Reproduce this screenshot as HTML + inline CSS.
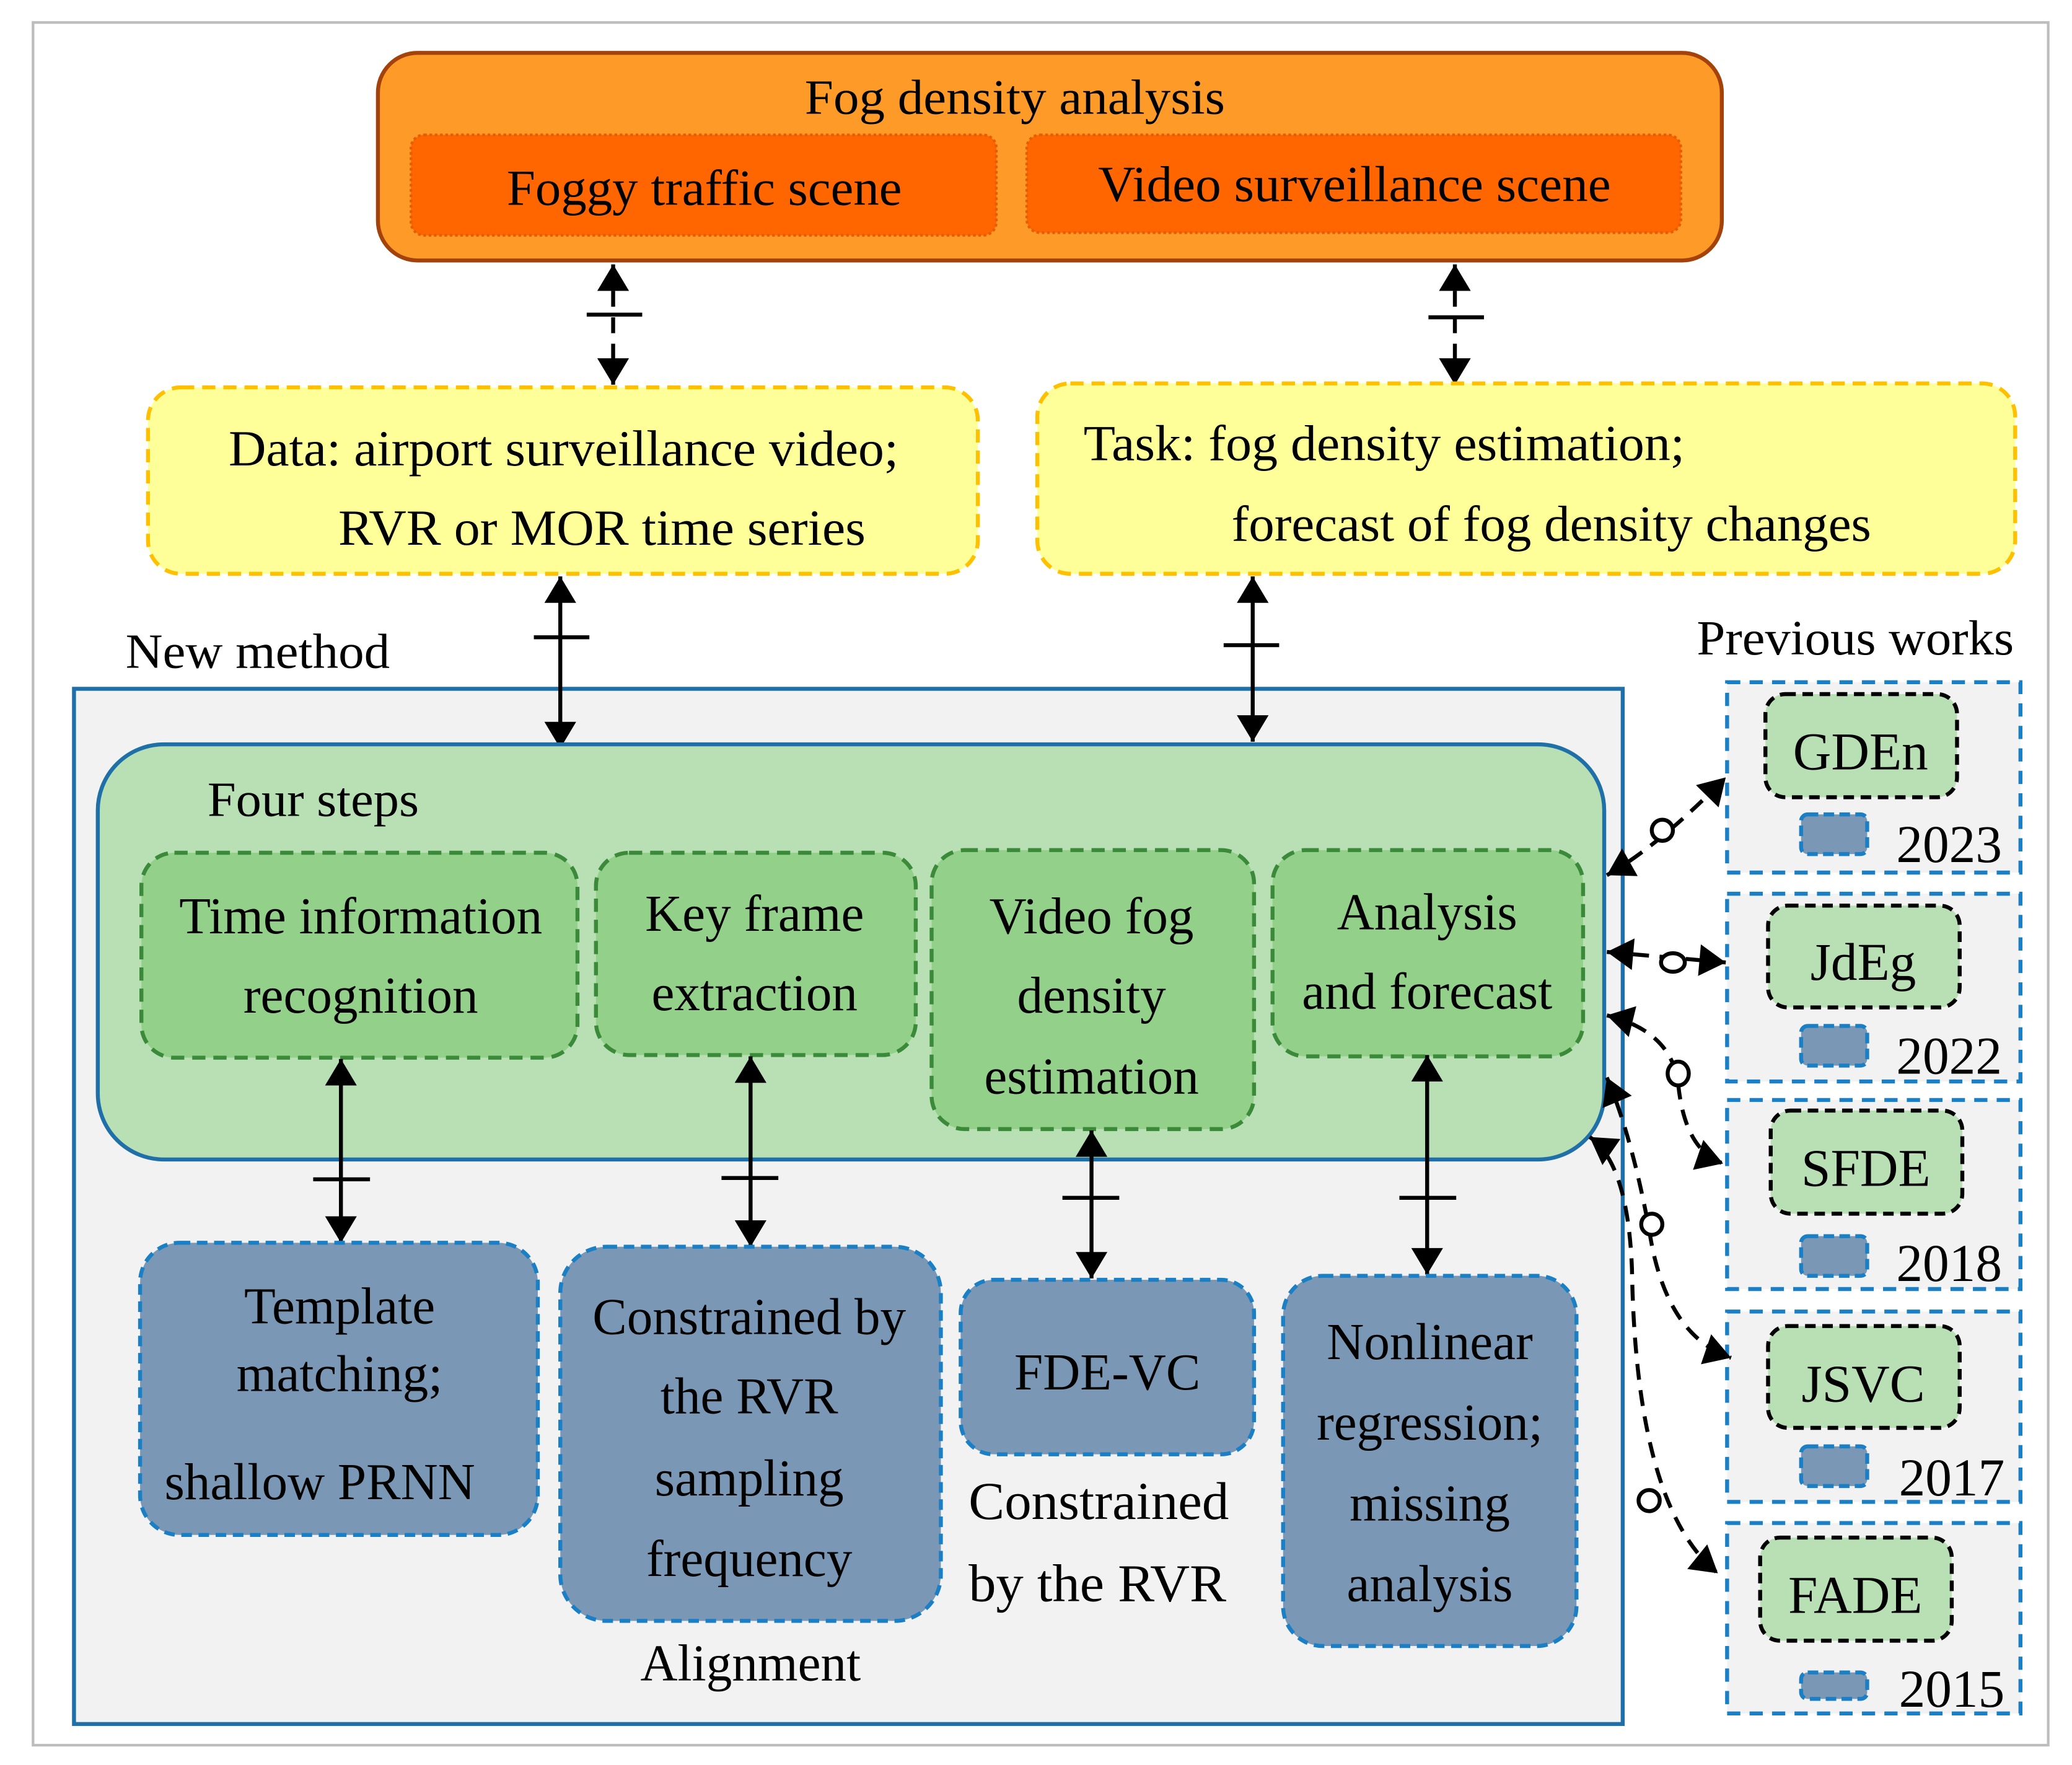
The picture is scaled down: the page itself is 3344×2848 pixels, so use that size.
<!DOCTYPE html>
<html><head><meta charset="utf-8"><style>
html,body{margin:0;padding:0;background:#fff;}
svg{display:block;}
text{font-family:"Liberation Serif",serif;fill:#000;}
</style></head><body>
<svg width="3344" height="2848" viewBox="0 0 1568 1335" preserveAspectRatio="none" xmlns="http://www.w3.org/2000/svg">
<defs>
<marker id="a" viewBox="0 0 20 24" refX="20" refY="12" markerWidth="22" markerHeight="24" orient="auto-start-reverse" markerUnits="userSpaceOnUse">
<path d="M0,0 L20,12 L0,24 z" fill="#000"/>
</marker>
</defs>
<rect x="0" y="0" width="1568" height="1335" fill="#fff"/>
<rect x="25" y="17" width="1525" height="1303" fill="#fff" stroke="#bdbdbd" stroke-width="2"/>

<rect x="286" y="40" width="1017" height="157" rx="30" fill="#fd9a28" stroke="#a4420c" stroke-width="3"/>
<text x="768" y="86" font-size="37" text-anchor="middle" textLength="318" lengthAdjust="spacingAndGlyphs">Fog density analysis</text>
<rect x="311" y="102" width="443" height="76" rx="10" fill="#ff6600" stroke="#e85a00" stroke-width="2" stroke-dasharray="2,2"/>
<text x="533" y="155" font-size="38" text-anchor="middle" textLength="299" lengthAdjust="spacingAndGlyphs">Foggy traffic scene</text>
<rect x="777" y="102" width="495" height="74" rx="10" fill="#ff6600" stroke="#e85a00" stroke-width="2" stroke-dasharray="2,2"/>
<text x="1025" y="152" font-size="38" text-anchor="middle" textLength="388" lengthAdjust="spacingAndGlyphs">Video surveillance scene</text>

<g stroke="#000" stroke-width="3" fill="none">
<line x1="464" y1="200" x2="464" y2="291" stroke-dasharray="12,8" marker-start="url(#a)" marker-end="url(#a)"/>
<line x1="444" y1="238" x2="486" y2="238"/>
<line x1="1101" y1="200" x2="1101" y2="291" stroke-dasharray="12,8" marker-start="url(#a)" marker-end="url(#a)"/>
<line x1="1081" y1="240" x2="1123" y2="240"/>
</g>

<rect x="112" y="293" width="628" height="141" rx="25" fill="#ffff99" stroke="#ffc000" stroke-width="3" stroke-dasharray="10,6"/>
<text x="173" y="352" font-size="38" textLength="507" lengthAdjust="spacingAndGlyphs">Data: airport surveillance video;</text>
<text x="256" y="412" font-size="38" textLength="399" lengthAdjust="spacingAndGlyphs">RVR or MOR time series</text>
<rect x="785" y="290" width="740" height="144" rx="25" fill="#ffff99" stroke="#ffc000" stroke-width="3" stroke-dasharray="10,6"/>
<text x="820" y="348" font-size="38" textLength="455" lengthAdjust="spacingAndGlyphs">Task: fog density estimation;</text>
<text x="932" y="409" font-size="38" textLength="484" lengthAdjust="spacingAndGlyphs">forecast of fog density changes</text>

<text x="95" y="505" font-size="37" textLength="200" lengthAdjust="spacingAndGlyphs">New method</text>
<text x="1284" y="495" font-size="37" textLength="240" lengthAdjust="spacingAndGlyphs">Previous works</text>

<rect x="56" y="521" width="1172" height="783" fill="#f2f2f2" stroke="#1f6fa8" stroke-width="3"/>

<g stroke="#000" stroke-width="3" fill="none">
<line x1="424" y1="436" x2="424" y2="566" marker-start="url(#a)" marker-end="url(#a)"/>
<line x1="404" y1="482" x2="446" y2="482"/>
<line x1="948" y1="436" x2="948" y2="561" marker-start="url(#a)" marker-end="url(#a)"/>
<line x1="926" y1="488" x2="968" y2="488"/>
</g>

<rect x="74" y="563" width="1140" height="314" rx="50" fill="#b9e0b4" stroke="#1f6fa8" stroke-width="3"/>
<text x="157" y="617" font-size="37" textLength="160" lengthAdjust="spacingAndGlyphs">Four steps</text>

<g fill="#93d08a" stroke="#3a8a3a" stroke-width="3" stroke-dasharray="10,6">
<rect x="107" y="645" width="330" height="155" rx="25"/>
<rect x="451" y="645" width="242" height="153" rx="25"/>
<rect x="705" y="643" width="244" height="211" rx="25"/>
<rect x="963" y="643" width="235" height="156" rx="25"/>
</g>
<g font-size="39" text-anchor="middle">
<text x="273" y="706">Time information</text>
<text x="273" y="766">recognition</text>
<text x="571" y="704">Key frame</text>
<text x="571" y="764">extraction</text>
<text x="826" y="706">Video fog</text>
<text x="826" y="766">density</text>
<text x="826" y="827">estimation</text>
<text x="1080" y="703">Analysis</text>
<text x="1080" y="763">and forecast</text>
</g>

<g stroke="#000" stroke-width="3" fill="none">
<line x1="258" y1="801" x2="258" y2="940" marker-start="url(#a)" marker-end="url(#a)"/>
<line x1="237" y1="892" x2="280" y2="892"/>
<line x1="568" y1="799" x2="568" y2="943" marker-start="url(#a)" marker-end="url(#a)"/>
<line x1="546" y1="891" x2="589" y2="891"/>
<line x1="826" y1="855" x2="826" y2="967" marker-start="url(#a)" marker-end="url(#a)"/>
<line x1="804" y1="906" x2="847" y2="906"/>
<line x1="1080" y1="798" x2="1080" y2="964" marker-start="url(#a)" marker-end="url(#a)"/>
<line x1="1059" y1="906" x2="1102" y2="906"/>
</g>

<g fill="#7a97b5" stroke="#1a7fc4" stroke-width="3" stroke-dasharray="8,5">
<rect x="106" y="940" width="301" height="221" rx="30"/>
<rect x="424" y="943" width="288" height="283" rx="35"/>
<rect x="727" y="968" width="222" height="132" rx="25"/>
<rect x="971" y="965" width="222" height="280" rx="30"/>
</g>
<g font-size="39" text-anchor="middle">
<text x="257" y="1001">Template</text>
<text x="257" y="1052">matching;</text>
<text x="242" y="1134">shallow PRNN</text>
<text x="567" y="1009">Constrained by</text>
<text x="567" y="1069">the RVR</text>
<text x="567" y="1131">sampling</text>
<text x="567" y="1192">frequency</text>
<text x="838" y="1051">FDE-VC</text>
<text x="1082" y="1028">Nonlinear</text>
<text x="1082" y="1089">regression;</text>
<text x="1082" y="1150">missing</text>
<text x="1082" y="1211">analysis</text>
<text x="568" y="1271">Alignment</text>
</g>
<text x="733" y="1149" font-size="40" textLength="197" lengthAdjust="spacingAndGlyphs">Constrained</text>
<text x="733" y="1211" font-size="40" textLength="195" lengthAdjust="spacingAndGlyphs">by the RVR</text>

<g fill="#f2f2f2" stroke="#1a7fc4" stroke-width="3" stroke-dasharray="10,7">
<rect x="1307" y="516" width="222" height="144"/>
<rect x="1307" y="676" width="222" height="142"/>
<rect x="1307" y="832" width="222" height="143"/>
<rect x="1307" y="992" width="222" height="144"/>
<rect x="1307" y="1152" width="222" height="144"/>
</g>
<g fill="#b9e0b4" stroke="#000" stroke-width="3" stroke-dasharray="8,5">
<rect x="1336" y="525" width="145" height="78" rx="15"/>
<rect x="1338" y="685" width="145" height="77" rx="15"/>
<rect x="1340" y="840" width="145" height="78" rx="15"/>
<rect x="1338" y="1003" width="145" height="77" rx="15"/>
<rect x="1332" y="1163" width="145" height="78" rx="15"/>
</g>
<g font-size="40" text-anchor="middle">
<text x="1408" y="582">GDEn</text>
<text x="1410" y="741">JdEg</text>
<text x="1412" y="897">SFDE</text>
<text x="1410" y="1060">JSVC</text>
<text x="1404" y="1220">FADE</text>
</g>
<g fill="#7a97b5" stroke="#1a7fc4" stroke-width="3" stroke-dasharray="8,4">
<rect x="1363" y="616" width="50" height="30" rx="5"/>
<rect x="1363" y="776" width="50" height="30" rx="5"/>
<rect x="1363" y="935" width="50" height="30" rx="5"/>
<rect x="1363" y="1094" width="50" height="30" rx="5"/>
<rect x="1363" y="1265" width="50" height="20" rx="5"/>
</g>
<g font-size="40">
<text x="1435" y="652" textLength="80" lengthAdjust="spacingAndGlyphs">2023</text>
<text x="1435" y="812" textLength="80" lengthAdjust="spacingAndGlyphs">2022</text>
<text x="1435" y="969" textLength="80" lengthAdjust="spacingAndGlyphs">2018</text>
<text x="1437" y="1131" textLength="80" lengthAdjust="spacingAndGlyphs">2017</text>
<text x="1437" y="1291" textLength="80" lengthAdjust="spacingAndGlyphs">2015</text>
</g>

<g stroke="#000" stroke-width="3" fill="none" stroke-dasharray="12,8">
<path d="M1216,662 Q1255,640 1306,588" marker-start="url(#a)" marker-end="url(#a)"/>
<path d="M1216,720 L1306,728" marker-start="url(#a)" marker-end="url(#a)"/>
<path d="M1216,768 Q1265,780 1270,820 Q1275,870 1304,880" marker-start="url(#a)" marker-end="url(#a)"/>
<path d="M1216,815 Q1235,860 1248,930 Q1260,1010 1310,1027" marker-start="url(#a)" marker-end="url(#a)"/>
<path d="M1203,860 Q1232,880 1235,960 Q1238,1140 1300,1190" marker-start="url(#a)" marker-end="url(#a)"/>
</g>
<g stroke="#000" stroke-width="3" fill="#fff">
<circle cx="1258" cy="628" r="8"/>
<ellipse cx="1266" cy="728" rx="9" ry="7"/>
<ellipse cx="1270" cy="812" rx="8" ry="9"/>
<circle cx="1250" cy="926" r="8"/>
<circle cx="1248" cy="1135" r="8"/>
</g>
</svg>
</body></html>
